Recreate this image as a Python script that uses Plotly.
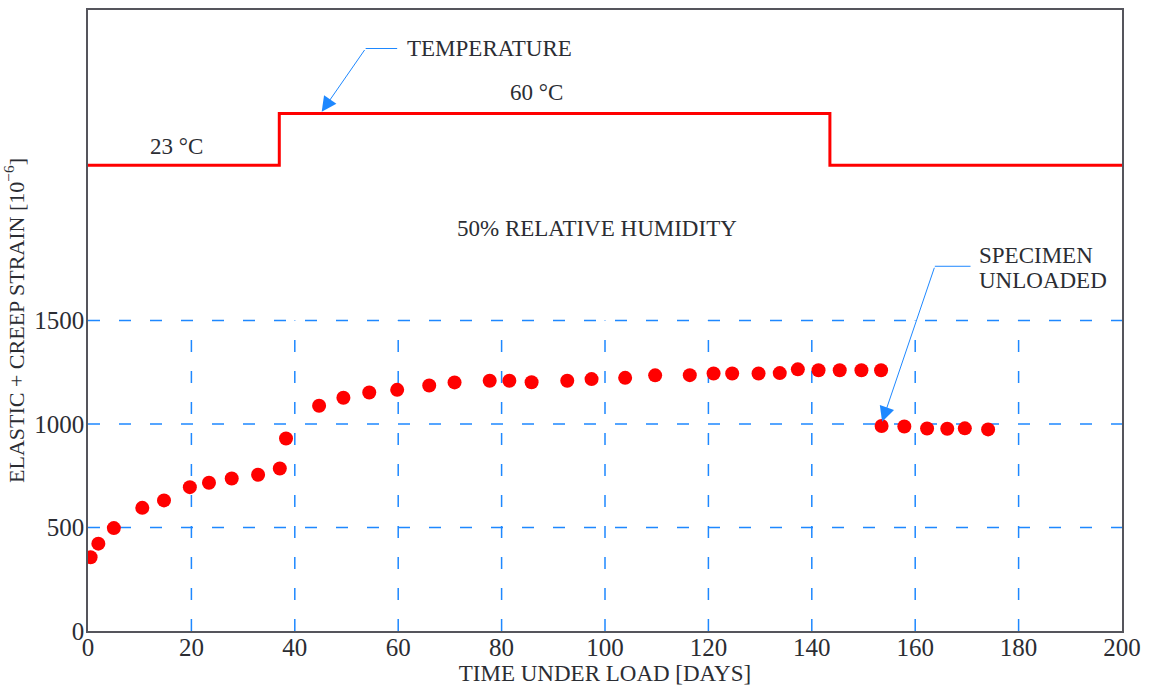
import plotly.graph_objects as go

# ---- data ----
days = [0.5, 2.0, 5.0, 10.5, 14.7, 19.7, 23.4, 27.8, 32.9, 37.1, 38.3,
        44.7, 49.4, 54.4, 59.8, 66.0, 70.9, 77.7, 81.5, 85.8, 92.7, 97.4,
        103.9, 109.7, 116.4, 121.0, 124.6, 129.7, 133.8, 137.3, 141.3, 145.4,
        149.6, 153.4,
        153.5, 157.9, 162.3, 166.2, 169.6, 174.1]
strain = [356, 422, 497, 595, 631, 695, 716, 737, 755, 785, 930,
          1088, 1127, 1152, 1165, 1186, 1201, 1209, 1209, 1202, 1209, 1217,
          1223, 1235, 1236, 1244, 1244, 1244, 1246, 1264, 1260, 1260,
          1260, 1260,
          990, 988, 978, 977, 979, 974]

temp_days = [0, 37, 143.5, 200]
temp_level = [2250, 2500, 2250, 2250]

x_ticks = [0, 20, 40, 60, 80, 100, 120, 140, 160, 180, 200]
y_ticks = [0, 500, 1000, 1500]

FONT = "Liberation Serif, Times New Roman, serif"
TXT = "#2b2d33"
BLUE = "#1e88ff"
RED = "#ff0000"
FS = 23

fig = go.Figure()

# grid lines (dashed blue)
shapes = []
for yv in y_ticks[1:]:
    shapes.append(dict(type="line", xref="x", yref="y", x0=0, x1=200, y0=yv, y1=yv,
                       line=dict(color=BLUE, width=1.5, dash="12px,19px"), layer="below"))
for xv in x_ticks[1:-1]:
    shapes.append(dict(type="line", xref="x", yref="y", x0=xv, x1=xv, y0=0, y1=1500,
                       line=dict(color=BLUE, width=1.5, dash="12px,19px"), layer="below"))

# leader horizontal segments
shapes.append(dict(type="line", xref="x", yref="y", x0=53.7, x1=59.8, y0=2814, y1=2814,
                   line=dict(color=BLUE, width=1)))
shapes.append(dict(type="line", xref="x", yref="y", x0=163.8, x1=170.7, y0=1762, y1=1762,
                   line=dict(color=BLUE, width=1)))

fig.add_trace(go.Scatter(x=temp_days, y=temp_level, mode="lines", line_shape="hv",
                         line=dict(color=RED, width=3), hoverinfo="skip", showlegend=False))

fig.add_trace(go.Scatter(x=days, y=strain, mode="markers",
                         marker=dict(color=RED, size=14, line=dict(width=0)),
                         showlegend=False))

tf = dict(size=FS, color=TXT, family=FONT)
annotations = [
    dict(x=17.1, y=2342, text="23 °C", showarrow=False, xref="x", yref="y", font=tf),
    dict(x=86.8, y=2603, text="60 °C", showarrow=False, xref="x", yref="y", font=tf),
    dict(x=98.4, y=1946, text="50% RELATIVE HUMIDITY", showarrow=False, xref="x", yref="y", font=tf),
    dict(x=61.4, y=2814, text="TEMPERATURE", showarrow=False, xref="x", yref="y",
         xanchor="left", font=tf),
    dict(x=172.0, y=1815, text="SPECIMEN", showarrow=False, xref="x", yref="y",
         xanchor="left", font=tf),
    dict(x=172.0, y=1695, text="UNLOADED", showarrow=False, xref="x", yref="y",
         xanchor="left", font=tf),
    # arrows
    dict(x=45.2, y=2508, ax=53.7, ay=2814, axref="x", ayref="y", xref="x", yref="y",
         text="", showarrow=True, arrowhead=2, arrowsize=3, arrowwidth=1, arrowcolor=BLUE),
    dict(x=153.6, y=1011, ax=163.8, ay=1762, axref="x", ayref="y", xref="x", yref="y",
         text="", showarrow=True, arrowhead=2, arrowsize=3, arrowwidth=1, arrowcolor=BLUE),
]

fig.update_layout(
    width=1151, height=687,
    margin=dict(l=88, r=29, t=10, b=56),
    paper_bgcolor="white", plot_bgcolor="white",
    shapes=shapes, annotations=annotations,
    font=dict(family=FONT, color=TXT),
    xaxis=dict(range=[0, 200], tickvals=x_ticks, showgrid=False, zeroline=False,
               showline=True, mirror=True, linecolor="#55555c", linewidth=1.5,
               ticks="", tickfont=dict(size=25, color=TXT, family=FONT), automargin=False,
               ticklabelstandoff=-7,
               title=dict(text="TIME UNDER LOAD [DAYS]", font=tf, standoff=2)),
    yaxis=dict(range=[0, 3000], tickvals=y_ticks, showgrid=False, zeroline=False,
               showline=True, mirror=True, linecolor="#55555c", linewidth=1.5,
               ticks="", tickfont=dict(size=25, color=TXT, family=FONT), automargin=False,
               ticklabelstandoff=-3,
               title=dict(text="ELASTIC + CREEP STRAIN [10<sup>−6</sup>]",
                          font=dict(size=22, color=TXT, family=FONT), standoff=4)),
)

fig.write_html("out.html")
